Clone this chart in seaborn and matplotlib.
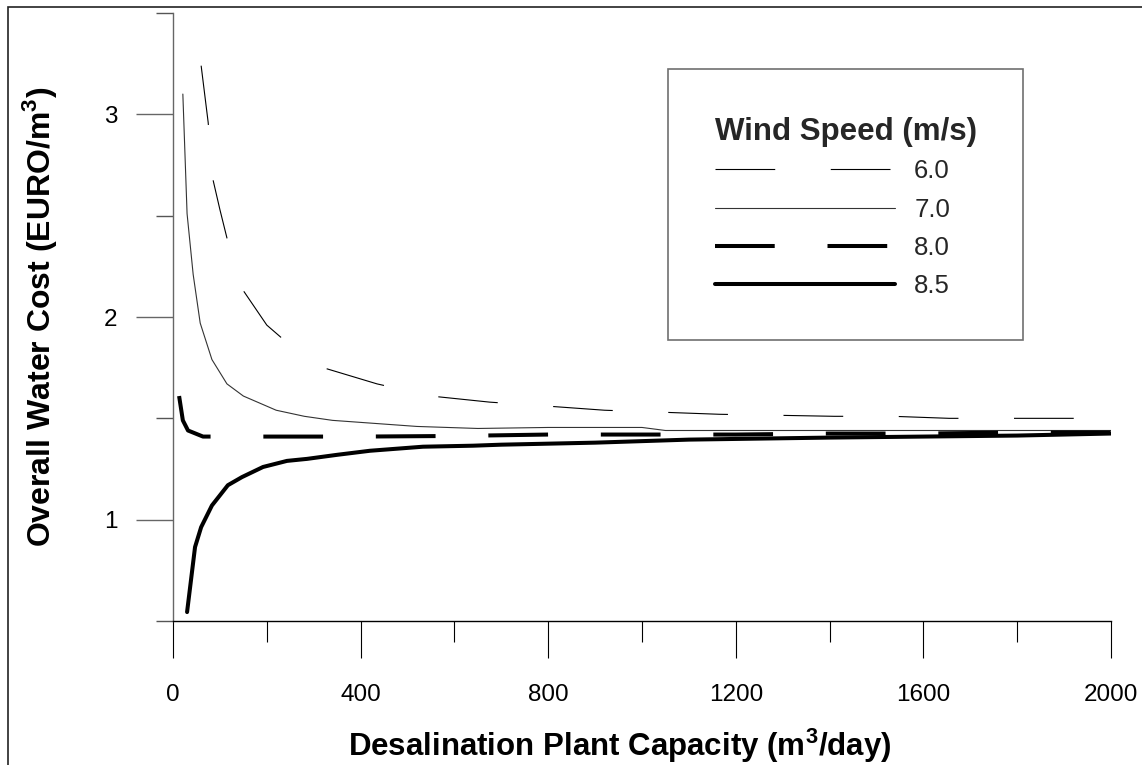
import matplotlib
matplotlib.use("Agg")
import matplotlib.pyplot as plt
from matplotlib.lines import Line2D
from matplotlib.patches import Rectangle
import seaborn as sns
import pandas as pd

# ─── Data: capacity (m3/day) vs overall water cost (EURO/m3) ───
wind_speeds = ["6.0", "7.0", "8.0", "8.5"]

cap_60 = [60, 75, 85, 100, 115, 150, 200, 250, 320, 435, 550, 675, 800,
          920, 1045, 1165, 1290, 1410, 1535, 1655, 1775, 1900, 2000]
cost_60 = [3.24, 2.96, 2.68, 2.53, 2.39, 2.13, 1.96, 1.86, 1.75, 1.67, 1.61, 1.58, 1.56,
           1.54, 1.53, 1.52, 1.515, 1.51, 1.51, 1.50, 1.50, 1.50, 1.50]

cap_70 = [21, 30, 43, 58, 83, 115, 150, 220, 280, 340, 400, 520, 650,
          800, 1000, 1050, 1200, 1400, 1600, 1800, 2000]
cost_70 = [3.10, 2.51, 2.21, 1.97, 1.79, 1.67, 1.61, 1.54, 1.51, 1.49, 1.48, 1.46, 1.45,
           1.455, 1.455, 1.44, 1.44, 1.44, 1.44, 1.44, 1.44]

cap_80 = [13, 21, 32, 64, 200, 400, 600, 800, 1000, 1200, 1400, 1600, 1800, 2000]
cost_80 = [1.61, 1.49, 1.44, 1.41, 1.41, 1.41, 1.413, 1.42, 1.42, 1.42, 1.425, 1.425, 1.43, 1.43]

cap_85 = [30, 47, 60, 83, 117, 147, 192, 243, 286, 350, 420, 533, 640, 700,
          900, 1100, 1400, 1600, 1800, 2000]
cost_85 = [0.544, 0.865, 0.963, 1.07, 1.17, 1.21, 1.26, 1.29, 1.30, 1.32, 1.34, 1.36, 1.365, 1.37,
           1.38, 1.395, 1.405, 1.41, 1.415, 1.425]

x_major = [0, 400, 800, 1200, 1600, 2000]
x_minor = [200, 600, 1000, 1400, 1800]
y_major = [1, 2, 3]
y_minor = [0.5, 1.5, 2.5, 3.5]

# ─── Styles ───────────────────────────────────────────────
line_colors = {"6.0": "black", "7.0": "#333333", "8.0": "black", "8.5": "black"}
line_widths = {"6.0": 0.8, "7.0": 0.8, "8.0": 2.9, "8.5": 2.9}
line_dashes = {"6.0": (43, 40), "7.0": "", "8.0": (43, 38), "8.5": ""}

sns.set_theme(style="ticks")
plt.rcParams["font.family"] = ["Liberation Sans", "DejaVu Sans"]
plt.rcParams["mathtext.fontset"] = "custom"
plt.rcParams["mathtext.rm"] = "Liberation Sans"
plt.rcParams["mathtext.bf"] = "Liberation Sans:bold"
plt.rcParams["lines.scale_dashes"] = False

frames = []
for ws, cap, cost in zip(wind_speeds, [cap_60, cap_70, cap_80, cap_85],
                         [cost_60, cost_70, cost_80, cost_85]):
    frames.append(pd.DataFrame({"capacity": cap, "cost": cost, "wind": ws}))
df = pd.concat(frames, ignore_index=True)

W, H = 1142, 765
fig = plt.figure(figsize=(W / 100, H / 100), dpi=100)
ax = fig.add_axes([173 / W, 144 / H, 938 / W, 608 / H])

sns.lineplot(data=df, x="capacity", y="cost", hue="wind", style="wind", size="wind",
             hue_order=wind_speeds, palette=line_colors, dashes=line_dashes,
             sizes=line_widths, estimator=None, sort=True, legend=False, ax=ax)

# ─── Axes ─────────────────────────────────────────────────
ax.set_xlim(0, 2000)
ax.set_ylim(0.5, 3.5)
ax.set_xticks(x_major)
ax.set_xticks(x_minor, minor=True)
ax.set_yticks(y_major)
ax.set_yticks(y_minor, minor=True)
ax.set_xticklabels([str(v) for v in x_major])
ax.set_yticklabels([str(v) for v in y_major])

for side in ["top", "right"]:
    ax.spines[side].set_visible(False)
ax.spines["left"].set_color("#666666")
ax.spines["left"].set_linewidth(1.0)
ax.spines["bottom"].set_color("black")
ax.spines["bottom"].set_linewidth(1.0)

ax.tick_params(axis="x", which="major", length=26.6, width=0.8, color="black",
               pad=19, labelsize=17.5, labelcolor="black")
ax.tick_params(axis="x", which="minor", length=15.1, width=0.8, color="black")
ax.tick_params(axis="y", which="major", length=26.6, width=1.0, color="#666666",
               pad=13.5, labelsize=17.5, labelcolor="black")
ax.tick_params(axis="y", which="minor", length=12.2, width=1.0, color="#555555")
ax.grid(False)

ax.set_xlabel(r"Desalination Plant Capacity (m$^{\mathbf{3}}$/day)", fontsize=22.5,
              fontweight="bold", color="black")
ax.set_ylabel(r"Overall Water Cost (EURO/m$^{\mathbf{3}}$)", fontsize=23,
              fontweight="bold", color="black")
ax.xaxis.set_label_coords((620 - 173) / 938, (621 - 746) / 608)
ax.xaxis.label.set_va("center")
ax.yaxis.set_label_coords((40 - 173) / 938, 0.5)
ax.yaxis.label.set_va("center")

# ─── Legend (frameless, box drawn separately) ─────────────
handles = []
for ws in wind_speeds:
    if line_dashes[ws]:
        h = Line2D([], [], color=line_colors[ws], lw=line_widths[ws], dashes=line_dashes[ws])
    else:
        h = Line2D([], [], color=line_colors[ws], lw=line_widths[ws], linestyle="-")
    handles.append(h)

leg = ax.legend(handles, wind_speeds, title="Wind Speed (m/s)", loc="upper left",
                bbox_to_anchor=(715 / W, 1 - 117 / H), bbox_transform=fig.transFigure,
                frameon=False, fontsize=18.5, title_fontsize=22.5, handlelength=7.0,
                handletextpad=0.75, labelspacing=0.56, borderpad=0, borderaxespad=0,
                alignment="left")
leg.get_title().set_fontweight("bold")
# gap between the title and the first entry
leg._legend_box.sep = 8.8

fig.patches.append(Rectangle((668 / W, 1 - 340 / H), 355 / W, 271 / H,
                             transform=fig.transFigure, fill=False,
                             edgecolor="#707070", lw=1.2))

# outer border of the original figure (only top and left visible)
fig.patches.append(Rectangle((8 / W, -0.05), 1.2, 1.05 - 7 / H,
                             transform=fig.transFigure, fill=False,
                             edgecolor="#222222", lw=1.2))

fig.savefig("out.png", dpi=100, facecolor="white")
